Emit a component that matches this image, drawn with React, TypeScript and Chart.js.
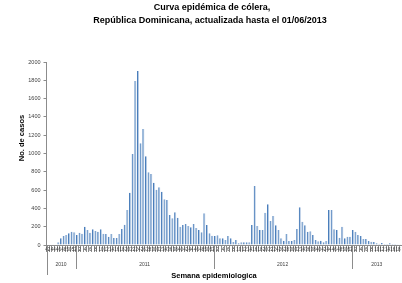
import React, { useEffect, useRef } from 'react';
import { Chart, registerables } from 'chart.js';

Chart.register(...registerables);

const chartTitle = ['Curva epidémica de cólera,', 'República Dominicana, actualizada hasta el 01/06/2013'];
const yTitle = 'No. de casos';
const xTitle = 'Semana epidemiologica';

const years = ['2010', '2011', '2012', '2013'];

const weeks2010 = [42, 43, 44, 45, 46, 47, 48, 49, 50, 51, 52];
const weeks2011 = [1, 2, 3, 4, 5, 6, 7, 8, 9, 10, 11, 12, 13, 14, 15, 16, 17, 18, 19, 20, 21, 22, 23, 24, 25, 26,
  27, 28, 29, 30, 31, 32, 33, 34, 35, 36, 37, 38, 39, 40, 41, 42, 43, 44, 45, 46, 47, 48, 49, 50, 51, 52];
const weeks2012 = [1, 2, 3, 4, 5, 6, 7, 8, 9, 10, 11, 12, 13, 14, 15, 16, 17, 18, 19, 20, 21, 22, 23, 24, 25, 26,
  27, 28, 29, 30, 31, 32, 33, 34, 35, 36, 37, 38, 39, 40, 41, 42, 43, 44, 45, 46, 47, 48, 49, 50, 51, 52];
const weeks2013 = [1, 2, 3, 4, 5, 6, 7, 8, 9, 10, 11, 12, 13, 14, 15, 16, 17, 18, 19];

const cases2010 = [0, 0, 0, 0, 30, 73, 98, 109, 128, 146, 139];
const cases2011 = [109, 135, 124, 200, 164, 135, 171, 153, 146, 171, 124, 120, 91, 120, 77, 77, 120, 175, 220, 383,
  572, 995, 1793, 1902, 1111, 1268, 970, 795, 776, 680, 605, 630, 583, 499, 492, 328, 291, 357, 299, 200,
  219, 230, 208, 193, 230, 186, 164, 138, 346, 219, 128, 102];
const cases2012 = [98, 106, 73, 73, 55, 98, 73, 33, 55, 18, 29, 29, 29, 29, 219, 645, 208, 164, 164, 353,
  445, 262, 317, 215, 164, 73, 47, 120, 44, 44, 55, 175, 412, 255, 215, 146, 149, 109, 55, 40,
  47, 29, 44, 383, 383, 171, 164, 80, 200, 73, 91, 91];
const cases2013 = [164, 146, 109, 98, 66, 66, 44, 36, 33, 18, 15, 22, 11, 11, 18, 11, 11, 7, 7];

const yTicks = [0, 200, 400, 600, 800, 1000, 1200, 1400, 1600, 1800, 2000];

const weekGroups = [weeks2010, weeks2011, weeks2012, weeks2013];
const labels = ([] as number[]).concat(...weekGroups).map(String);
const values = ([] as number[]).concat(cases2010, cases2011, cases2012, cases2013);

const FONT = '"Liberation Sans", Arial, sans-serif';

const decorPlugin = {
  id: 'decor',
  afterDraw(chart: any) {
    const ctx = chart.ctx as CanvasRenderingContext2D;
    const xs = chart.scales.x;
    const area = chart.chartArea;
    ctx.save();
    // title
    ctx.fillStyle = '#000';
    ctx.textAlign = 'center';
    ctx.textBaseline = 'middle';
    ctx.font = `bold 9px ${FONT}`;
    ctx.fillText(chartTitle[0], 212, 8);
    ctx.fillText(chartTitle[1], 210, 20.5);
    // y title
    ctx.save();
    ctx.translate(22, 138);
    ctx.rotate(-Math.PI / 2);
    ctx.font = `bold 7.5px ${FONT}`;
    ctx.fillText(yTitle, 0, 0);
    ctx.restore();
    // x title
    ctx.font = `bold 7.5px ${FONT}`;
    ctx.fillText(xTitle, 214, 275.5);
    // year separators and labels
    ctx.strokeStyle = '#8c8c8c';
    ctx.lineWidth = 1;
    ctx.font = `5px ${FONT}`;
    ctx.fillStyle = '#404040';
    let start = 0;
    weekGroups.forEach((grp, k) => {
      const end = start + grp.length - 1;
      const left = k === 0 ? xs.left : (xs.getPixelForValue(start - 1) + xs.getPixelForValue(start)) / 2;
      const right = k === weekGroups.length - 1 ? xs.right : (xs.getPixelForValue(end) + xs.getPixelForValue(end + 1)) / 2;
      const lx = Math.round(left) + 0.5;
      ctx.beginPath();
      ctx.moveTo(lx, area.bottom);
      ctx.lineTo(lx, area.bottom + (k === 0 ? 30 : 24));
      ctx.stroke();
      ctx.fillText(years[k], (left + right) / 2, area.bottom + 20);
      start = end + 1;
    });
    ctx.restore();
  },
};

export default function App() {
  const ref = useRef<HTMLCanvasElement | null>(null);
  useEffect(() => {
    if (!ref.current) return;
    const chart = new Chart(ref.current, {
      type: 'bar',
      data: {
        labels,
        datasets: [
          {
            data: values,
            backgroundColor: '#4a7ebb',
            borderColor: '#b9cde5',
            borderWidth: { top: 0, right: 1, bottom: 0, left: 0 },
            borderSkipped: false,
            barPercentage: 0.8,
            categoryPercentage: 1,
          },
        ],
      },
      options: {
        animation: false,
        responsive: false,
        layout: { padding: { top: 62, left: 0, right: 0, bottom: 0 } },
        plugins: { legend: { display: false }, tooltip: { enabled: false }, title: { display: false } },
        scales: {
          x: {
            type: 'category',
            offset: true,
            afterFit: (s: any) => { s.height = 38; },
            grid: { drawOnChartArea: false, drawTicks: true, tickLength: 7, color: '#8c8c8c', offset: true },
            border: { display: true, color: '#8c8c8c' },
            ticks: {
              autoSkip: false,
              maxRotation: 0,
              minRotation: 0,
              padding: -5,
              color: '#404040',
              font: { size: 4.5, family: FONT },
              callback: (_v: any, i: number) => (Number(labels[i]) % 2 === 0 ? labels[i] : ''),
            },
          },
          y: {
            min: 0,
            max: 2000,
            afterFit: (s: any) => { s.width = 46.5; },
            afterBuildTicks: (s: any) => { s.ticks = yTicks.map((v) => ({ value: v })); },
            grid: { drawOnChartArea: false, drawTicks: true, tickLength: 3, color: '#8c8c8c' },
            border: { display: true, color: '#8c8c8c' },
            ticks: {
              color: '#404040',
              padding: 3,
              font: { size: 5.5, family: FONT },
              callback: (v: any) => String(v),
            },
          },
        },
      },
      plugins: [decorPlugin],
    });
    return () => chart.destroy();
  }, []);
  return (
    <div style={{ position: 'fixed', left: 0, top: 0, width: 402, height: 283, background: '#fff' }}>
      <canvas ref={ref} width={402} height={283} />
    </div>
  );
}
